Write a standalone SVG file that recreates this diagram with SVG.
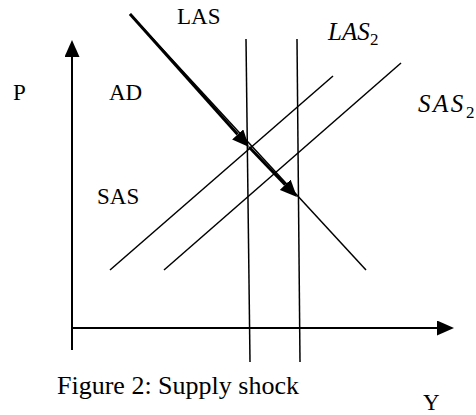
<svg xmlns="http://www.w3.org/2000/svg" width="476" height="415" viewBox="0 0 476 415">
  <style>
    .axis { stroke: #000; stroke-width: 2; fill: none; }
    .thin { stroke: #000; stroke-width: 1.5; fill: none; }
    .thick { stroke: #000; stroke-width: 3; fill: none; }
    .lbl { font-family: "Liberation Serif", "Times New Roman", serif; font-size: 23px; fill: #000; }
    .math { font-family: "Liberation Serif", "Times New Roman", serif; font-style: italic; font-size: 25px; fill: #000; }
    .sub { font-family: "Liberation Serif", "Times New Roman", serif; font-size: 17px; fill: #000; }
    .cap { font-family: "Liberation Serif", "Times New Roman", serif; font-size: 26px; fill: #000; }
  </style>
  <defs>
    <marker id="head" markerUnits="userSpaceOnUse" viewBox="0 0 17 15" refX="0" refY="7.5" markerWidth="17" markerHeight="15" orient="auto">
      <path d="M0,0 L17,7.5 L0,15 Z" fill="#000"/>
    </marker>
  </defs>

  <g id="axes">
    <line class="axis" x1="72" y1="350" x2="72" y2="57" marker-end="url(#head)"/>
    <line class="axis" x1="72" y1="328" x2="437" y2="328" marker-end="url(#head)"/>
  </g>

  <g id="curves">
    <line id="las" class="thin" x1="246" y1="39" x2="250" y2="362"/>
    <line id="las2" class="thin" x1="297" y1="39" x2="300" y2="362"/>
    <line id="sas" class="thin" x1="110" y1="270" x2="333" y2="76"/>
    <line id="sas2" class="thin" x1="164" y1="270" x2="401" y2="63"/>
    <line id="ad" class="thin" x1="130" y1="14" x2="366" y2="270"/>
  </g>

  <g id="connectors">
    <line class="thick" x1="130" y1="14" x2="237.7" y2="134.4" marker-end="url(#head)"/>
    <line class="thick" x1="249" y1="147" x2="285.2" y2="184.7" marker-end="url(#head)"/>
  </g>

  <g id="labels">
    <text class="lbl" x="177" y="24">LAS</text>
    <text class="lbl" x="13" y="99.5">P</text>
    <text class="lbl" x="109" y="99.5">AD</text>
    <text class="lbl" x="97" y="204">SAS</text>
    <text class="lbl" x="423" y="410">Y</text>
    <text class="math" x="328" y="39.5">LAS</text>
    <text class="sub" x="370" y="45">2</text>
    <text class="math" x="418" y="112" letter-spacing="2.5">SAS</text>
    <text class="sub" x="466" y="117.5">2</text>
    <text class="cap" x="57" y="394">Figure 2: Supply shock</text>
  </g>
</svg>
